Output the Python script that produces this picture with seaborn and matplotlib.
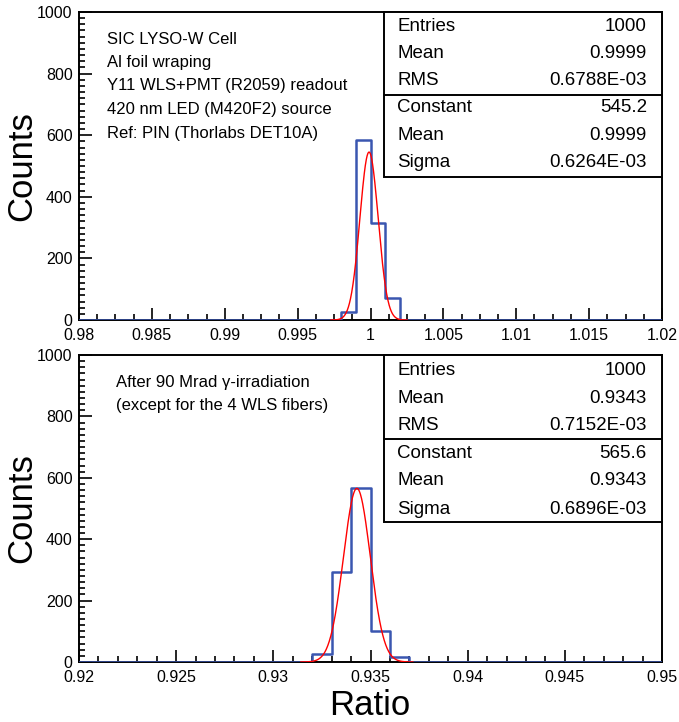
import numpy as np
import pandas as pd
import seaborn as sns
import matplotlib
matplotlib.use("Agg")
import matplotlib.pyplot as plt
from matplotlib.patches import Rectangle
from matplotlib.ticker import MultipleLocator, FuncFormatter

# ---------------- data ----------------
top_bin_starts = [0.998, 0.999, 1.000, 1.001]
top_counts = [27, 585, 316, 72]
top_range = (0.98, 1.02)
top_fit = dict(const=545.2, mean=0.9999, sigma=0.6264e-3)
top_stats = [("Entries", "1000"), ("Mean", "0.9999"), ("RMS", "0.6788E-03"),
             ("Constant", "545.2"), ("Mean", "0.9999"), ("Sigma", "0.6264E-03")]
top_notes = ["SIC LYSO-W Cell", "Al foil wraping", "Y11 WLS+PMT (R2059) readout",
             "420 nm LED (M420F2) source", "Ref: PIN (Thorlabs DET10A)"]
top_xticks = [0.98, 0.985, 0.99, 0.995, 1.0, 1.005, 1.01, 1.015, 1.02]

bot_bin_starts = [0.932, 0.933, 0.934, 0.935, 0.936]
bot_counts = [25, 292, 566, 101, 16]
bot_range = (0.92, 0.95)
bot_fit = dict(const=565.6, mean=0.9343, sigma=0.6896e-3)
bot_stats = [("Entries", "1000"), ("Mean", "0.9343"), ("RMS", "0.7152E-03"),
             ("Constant", "565.6"), ("Mean", "0.9343"), ("Sigma", "0.6896E-03")]
bot_notes = ["After 90 Mrad γ-irradiation", "(except for the 4 WLS fibers)"]
bot_xticks = [0.92, 0.925, 0.93, 0.935, 0.94, 0.945, 0.95]

bin_width = 0.001
yticks = [0, 200, 400, 600, 800, 1000]

# ---------------- style ----------------
sns.set_theme(style="white")
plt.rcParams['font.family'] = ['Liberation Sans', 'DejaVu Sans']
plt.rcParams['text.color'] = 'black'
plt.rcParams['axes.labelcolor'] = 'black'
BLUE = "#3a56b0"
RED = "#ff0000"

fig = plt.figure(figsize=(6.79, 7.22), dpi=100)
W, H = 679, 722

def axes_rect(l, t, r, b):
    return [l / W, 1 - b / H, (r - l) / W, (b - t) / H]

ax_top = fig.add_axes(axes_rect(79, 12, 662, 320))
ax_bot = fig.add_axes(axes_rect(79, 355, 662, 662))


def draw_panel(ax, bin_starts, counts, xr, fit, stats, notes, xticks, minor,
               rows_y, div_y, box_bot, note_x, note_y):
    nb = int(round((xr[1] - xr[0]) / bin_width))
    full = np.zeros(nb)
    for s, c in zip(bin_starts, counts):
        full[int(round((s - xr[0]) / bin_width))] = c
    centers = xr[0] + (np.arange(nb) + 0.5) * bin_width
    df = pd.DataFrame({"ratio": centers, "n": full})
    sns.histplot(data=df, x="ratio", weights="n", bins=nb, binrange=xr, element="step",
                 fill=False, color=BLUE, linewidth=1.8, ax=ax, zorder=3)
    xs = np.linspace(fit["mean"] - 4.2 * fit["sigma"], fit["mean"] + 4.2 * fit["sigma"], 300)
    ys = fit["const"] * np.exp(-0.5 * ((xs - fit["mean"]) / fit["sigma"]) ** 2)
    sns.lineplot(x=xs, y=ys, color=RED, linewidth=1.0, ax=ax, zorder=4)

    ax.set_xlim(*xr)
    ax.set_ylim(0, 1000)
    ax.set_xticks(xticks)
    ax.set_yticks(yticks)
    ax.xaxis.set_minor_locator(MultipleLocator(minor))
    ax.yaxis.set_minor_locator(MultipleLocator(20))
    ax.xaxis.set_major_formatter(FuncFormatter(lambda v, p: "%g" % round(v, 4)))
    ax.tick_params(axis="both", which="both", direction="in", bottom=True, left=True,
                   top=False, right=False, labelsize=11.5, colors="black", width=1.2)
    ax.tick_params(axis="both", which="major", length=9, pad=4.5)
    ax.tick_params(axis="both", which="minor", length=4.5)
    ax.tick_params(axis="x", which="major", pad=6)
    for sp in ax.spines.values():
        sp.set_color("black")
        sp.set_linewidth(1.4)
    ax.set_xlabel("")
    ax.set_ylabel("")
    ax.text(-0.099, 0.5, "Counts", transform=ax.transAxes, rotation=90,
            ha="center", va="center", fontsize=25)

    # stats box
    bx = 0.524
    ax.add_patch(Rectangle((bx, box_bot), 1 - bx, 1 - box_bot, transform=ax.transAxes,
                           fill=True, facecolor="white", edgecolor="black",
                           linewidth=1.4, zorder=5, clip_on=False))
    ax.plot([bx, 1], [div_y, div_y], transform=ax.transAxes, color="black",
            linewidth=1.4, zorder=6, clip_on=False)
    for (lab, val), yy in zip(stats, rows_y):
        ax.text(0.546, yy, lab, transform=ax.transAxes, ha="left", va="center",
                fontsize=13.5, zorder=7)
        ax.text(0.974, yy, val, transform=ax.transAxes, ha="right", va="center",
                fontsize=13.5, zorder=7)
    for t, yy in zip(notes, note_y):
        ax.text(note_x, yy, t, transform=ax.transAxes, ha="left", va="center",
                fontsize=12)


draw_panel(ax_top, top_bin_starts, top_counts, top_range, top_fit, top_stats, top_notes,
           top_xticks, 0.00125,
           rows_y=[0.9545, 0.866, 0.777, 0.689, 0.6006, 0.512], div_y=0.7305, box_bot=0.465,
           note_x=0.048, note_y=[0.912, 0.836, 0.760, 0.684, 0.607])
draw_panel(ax_bot, bot_bin_starts, bot_counts, bot_range, bot_fit, bot_stats, bot_notes,
           bot_xticks, 0.001,
           rows_y=[0.948, 0.857, 0.769, 0.678, 0.590, 0.498], div_y=0.726, box_bot=0.457,
           note_x=0.064, note_y=[0.912, 0.834])

fig.text(370 / W, 1 - 715 / H, "Ratio", ha="center", va="baseline", fontsize=25)

fig.savefig("out.png", dpi=100)
